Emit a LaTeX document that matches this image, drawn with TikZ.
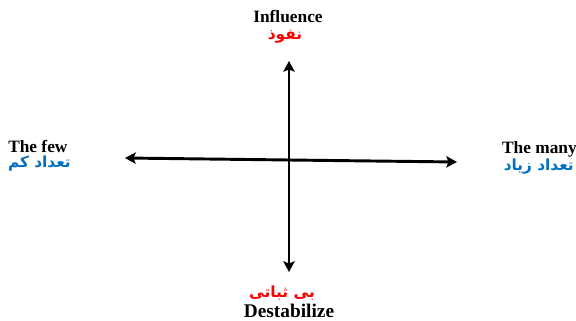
\documentclass[tikz,border=0pt]{standalone}
\usepackage{fontspec}
\setmainfont{Liberation Serif}
\newfontfamily\arabicfont[Script=Arabic]{DejaVu Sans}
\TeXXeTstate=1
\usetikzlibrary{arrows.meta}
\definecolor{fared}{RGB}{255,0,0}
\definecolor{fablue}{RGB}{0,112,192}
\tikzset{
  axis/.style={line width=2.2pt,-{Stealth[length=8pt,width=8.5pt,inset=1.6pt]}},
  entxt/.style={font=\bfseries\fontsize{13}{15}\selectfont,inner sep=0pt},
  fatxt/.style={font=\arabicfont\bfseries\fontsize{11.5}{13}\selectfont,inner sep=0pt},
}
\begin{document}
\begin{tikzpicture}[x=0.75pt,y=-0.75pt]
\useasboundingbox[fill=white] (0,0) rectangle (576,321);
\coordinate (c) at (289,160);
\coordinate (top) at (289,61);
\coordinate (bot) at (289,272);
\coordinate (lft) at (125,158);
\coordinate (rgt) at (457,162);
\draw[axis] (c) -- (top);
\draw[axis] (c) -- (bot);
\draw[axis] (c) -- (lft);
\draw[axis] (c) -- (rgt);
\node[entxt] (infl) at (288,17) {Influence};
\node[fatxt,text=fared] (nofuz) at (285,37) {\beginR نفوذ\endR};
\node[entxt,anchor=west] (few) at (8,146) {The few};
\node[fatxt,text=fablue,anchor=east] (kam) at (71,164) {\beginR تعداد کم\endR};
\node[entxt,anchor=east] (many) at (577,149) {The many};
\node[fatxt,text=fablue,anchor=east] (ziad) at (574,167) {\beginR تعداد زیاد\endR};
\node[fatxt,text=fared] (bisabati) at (282,293) {\beginR بی ثباتی\endR};
\node[entxt,font=\bfseries\fontsize{14.5}{17}\selectfont,anchor=base] (dest) at (289,317) {Destabilize};
\end{tikzpicture}
\end{document}
